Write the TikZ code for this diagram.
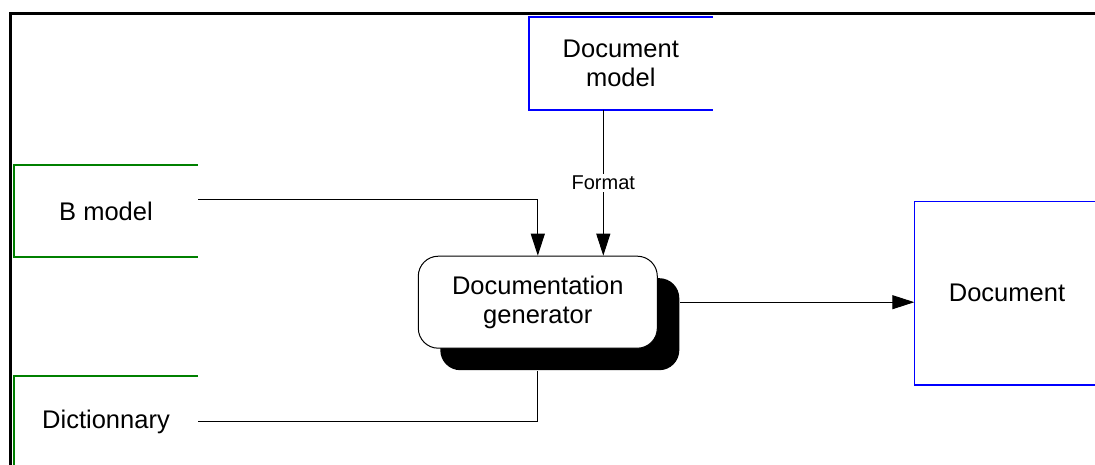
\documentclass[tikz,border=0pt]{standalone}
\usepackage{fontspec}
\setmainfont{Liberation Sans}
\usetikzlibrary{arrows.meta,shadows}
\definecolor{boxgreen}{RGB}{0,128,0}
\definecolor{boxblue}{RGB}{0,0,255}
\begin{document}
\begin{tikzpicture}[x=1pt,y=-1pt,
  lbl/.style={font=\fontsize{25.5}{29.5}\selectfont, align=center, inner sep=0pt},
  greenbox/.style={draw=boxgreen, line width=2pt},
  bluebox/.style={draw=boxblue, line width=2pt},
  conn/.style={line width=1pt, -{Triangle[length=22pt,width=14pt]}},
  plainline/.style={line width=1pt},
  procbox/.style={lbl, draw, line width=1pt, fill=white, rounded corners=20pt,
    minimum width=239pt, minimum height=92pt,
    drop shadow={shadow xshift=22pt, shadow yshift=-22pt, fill=black, opacity=1}},
  flowlabel/.style={fill=white, inner sep=2pt, font=\fontsize{20}{24}\selectfont}]
\useasboundingbox (0,0) rectangle (1095,465);
\clip (0,0) rectangle (1095,465);
\fill[white] (0,0) rectangle (1095,465);
% frame
\draw[line width=3pt] (10.5,470) -- (10.5,13.5) -- (1100,13.5);
% nodes
\node[lbl, minimum width=184pt, minimum height=92pt] (bm) at (106,211) {B model};
\node[lbl, minimum width=184pt, minimum height=92pt] (dict) at (106,421.7) {Dictionnary};
\node[lbl, minimum width=184pt, minimum height=92pt] (dm) at (620.8,63.5) {Document\\model};
\node[lbl, minimum width=185pt, minimum height=183pt] (doc) at (1007,293.3) {Document};
% open boxes
\draw[greenbox] (bm.north east) -- (bm.north west) -- (bm.south west) -- (bm.south east);
\draw[greenbox] (dict.north east) -- (dict.north west) -- (dict.south west) -- (dict.south east);
\draw[bluebox] (dm.north east) -- (dm.north west) -- (dm.south west) -- (dm.south east);
\draw[draw=boxblue, line width=1.2pt] (doc.north east) -- (doc.north west) -- (doc.south west) -- (doc.south east);
% generator
\node[procbox] (gen) at (537.8,302.2) {Documentation\\generator};
% connectors
\draw[conn] ([yshift=11pt]bm.east) -| (gen.north);
\draw[conn] ([xshift=-17.5pt]dm.south) -- node[flowlabel] {Format} ([xshift=-17.5pt]dm.south |- gen.north);
\draw[conn] ([xshift=22.5pt]gen.east) -- (gen.east -| doc.west);
\draw[plainline] (dict.east) -| ([yshift=-22pt]gen.south);
\end{tikzpicture}
\end{document}
